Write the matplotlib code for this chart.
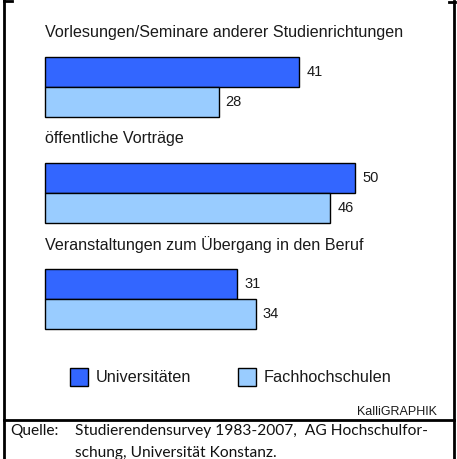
import matplotlib
matplotlib.use("Agg")
import matplotlib.pyplot as plt
from matplotlib.lines import Line2D
from matplotlib.patches import Rectangle

# data
categories = [
    "Vorlesungen/Seminare anderer Studienrichtungen",
    "öffentliche Vorträge",
    "Veranstaltungen zum Übergang in den Beruf",
]
universitaeten = [41, 50, 31]
fachhochschulen = [28, 46, 34]
series_names = ["Universitäten", "Fachhochschulen"]
source_label = "Quelle:"
source_lines = ["Studierendensurvey 1983-2007,  AG Hochschulfor-",
                "schung, Universität Konstanz."]
credit = "KalliGRAPHIK"

DARK = "#3366ff"
LIGHT = "#99ccff"
W, H = 457, 459

fig = plt.figure(figsize=(W / 100, H / 100), dpi=100)
fig.patch.set_facecolor("white")

# axes over the whole figure; x in percent, y in group index
px_per_unit = 6.2
x0_px = 45
group_px = 106
first_px = 72
bar_px = 30
ax = fig.add_axes([0, 0, 1, 1])
ax.set_xlim(-x0_px / px_per_unit, (W - x0_px) / px_per_unit)
ax.set_ylim((H - first_px) / group_px, -first_px / group_px)
ax.axis("off")

h = bar_px / group_px
for i, (cat, u, f) in enumerate(zip(categories, universitaeten, fachhochschulen)):
    ax.barh(i, u, height=h, color=DARK, edgecolor="black", linewidth=1)
    ax.barh(i + h, f, height=h, color=LIGHT, edgecolor="black", linewidth=1)
    ax.text(u + 7 / px_per_unit, i, str(u), va="center", ha="left",
            fontsize=10.5, family="Liberation Sans", color="#1a1a1a")
    ax.text(f + 7 / px_per_unit, i + h, str(f), va="center", ha="left",
            fontsize=10.5, family="Liberation Sans", color="#1a1a1a")
    ax.text(0, i - 39 / group_px, cat, va="center", ha="left",
            fontsize=11.6, family="Liberation Sans", color="#1a1a1a")

# legend
def fx(px):
    return px / W

def fy(px):
    return 1 - px / H

for sx, name, col in [(70, series_names[0], DARK), (238, series_names[1], LIGHT)]:
    fig.patches.append(Rectangle((fx(sx), fy(386)), 18 / W, 18 / H, transform=fig.transFigure,
                                 facecolor=col, edgecolor="black", linewidth=1))
    fig.text(fx(sx + 26), fy(377), name, va="center", ha="left",
             fontsize=11.7, family="Liberation Sans", color="#1a1a1a")

fig.text(fx(437), fy(412), credit, va="center", ha="right",
         fontsize=9, family="Liberation Sans", color="#1a1a1a")

# frame lines
lw = 2
fig.lines.append(Line2D([fx(3.5), fx(3.5)], [0, 1], transform=fig.transFigure, color="black", lw=lw))
fig.lines.append(Line2D([fx(454), fx(454)], [0, fy(1)], transform=fig.transFigure, color="black", lw=lw))
fig.lines.append(Line2D([fx(3.5), fx(454)], [fy(420), fy(420)], transform=fig.transFigure, color="black", lw=lw))
fig.lines.append(Line2D([fx(3.5), fx(12)], [fy(1), fy(1)], transform=fig.transFigure, color="black", lw=lw))
fig.lines.append(Line2D([fx(449), fx(455)], [fy(1.5), fy(1.5)], transform=fig.transFigure, color="black", lw=lw))

# source
fig.text(fx(10), fy(431), source_label, va="center", ha="left", fontsize=11.2, family="Lato", color="#111111")
fig.text(fx(75), fy(431), source_lines[0], va="center", ha="left", fontsize=11.2, family="Lato", color="#111111")
fig.text(fx(75), fy(453), source_lines[1], va="center", ha="left", fontsize=11.2, family="Lato", color="#111111")

fig.savefig("out.png", dpi=100, facecolor="white")
